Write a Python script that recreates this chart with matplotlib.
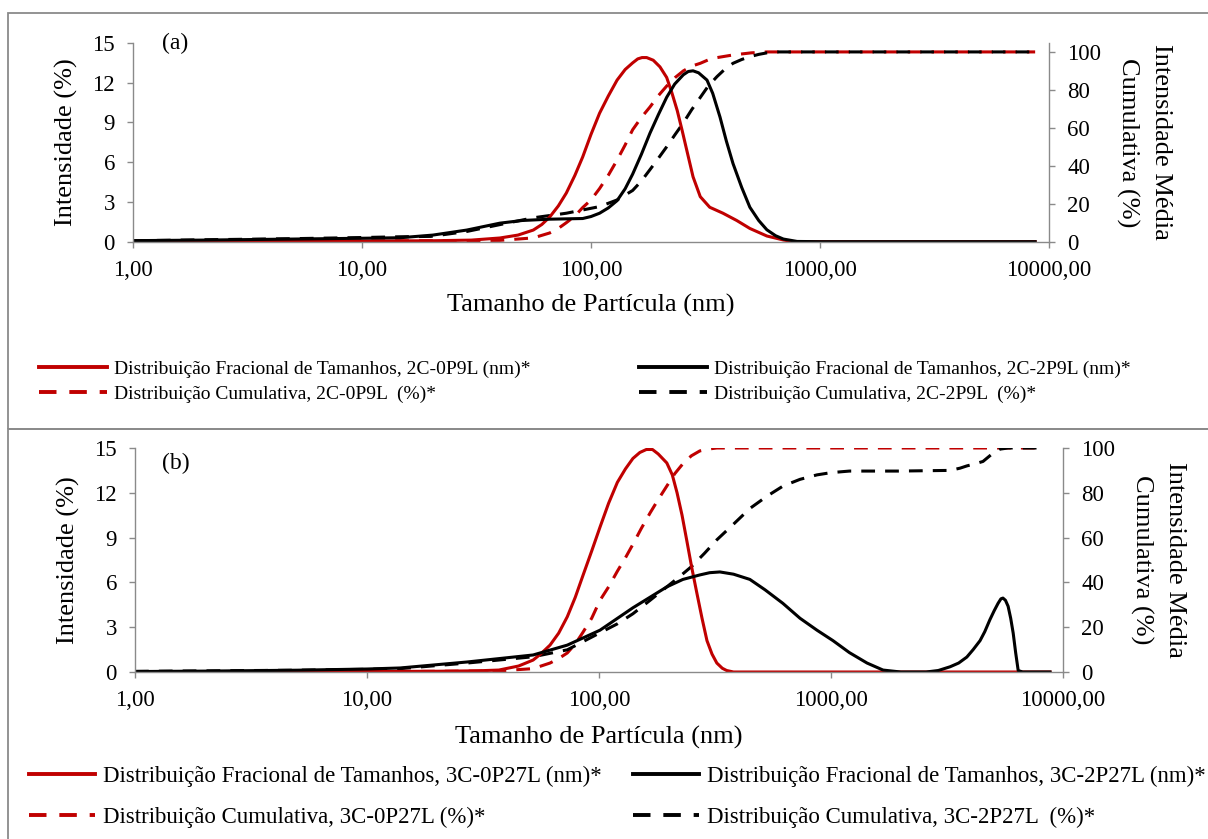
import numpy as np
import matplotlib
matplotlib.use("Agg")
import matplotlib.pyplot as plt
from matplotlib.patches import Rectangle
from matplotlib.lines import Line2D
from matplotlib.ticker import FixedLocator, NullLocator

plt.rcParams["font.family"] = ["Liberation Serif", "DejaVu Serif"]

# ---- data (x in nm) ----
x_ticks = [1, 10, 100, 1000, 10000]
x_tick_labels = ["1,00", "10,00", "100,00", "1000,00", "10000,00"]
y_left_ticks = [0, 3, 6, 9, 12, 15]
y_right_ticks = [0, 20, 40, 60, 80, 100]

# panel (a)
a_red_frac_x = [1, 2, 5, 10, 20, 30, 40, 48, 56, 61, 66, 72, 78, 85, 92, 100, 109, 119, 130,
                141, 152, 160, 167, 175, 187, 200, 214, 225, 238, 250, 262, 279, 300, 330,
                377, 433, 494, 586, 692, 765, 1000, 2000, 5000, 8700]
a_red_frac_y = [0.02, 0.02, 0.03, 0.05, 0.07, 0.12, 0.28, 0.5, 0.88, 1.3, 1.86, 2.7, 3.67,
                5.0, 6.4, 8.1, 9.7, 11.0, 12.2, 13.0, 13.5, 13.8, 13.9, 13.9, 13.7, 13.2,
                12.4, 11.3, 9.9, 8.4, 6.9, 4.9, 3.4, 2.6, 2.15, 1.6, 1.0, 0.43, 0.13, 0,
                0, 0, 0, 0]
a_blk_frac_x = [1, 2, 5, 10, 14.7, 20.4, 28.7, 40, 50, 66, 92, 100, 109, 119, 130, 141, 152,
                166, 181, 197, 214, 232, 253, 266, 279, 295, 321, 340, 366, 390, 417, 455,
                494, 540, 586, 640, 692, 794, 1000, 2000, 5000, 8700]
a_blk_frac_y = [0.08, 0.12, 0.2, 0.26, 0.3, 0.5, 0.88, 1.4, 1.6, 1.7, 1.75, 1.9, 2.15, 2.55,
                3.1, 4.0, 5.1, 6.6, 8.2, 9.6, 10.9, 11.9, 12.6, 12.85, 12.9, 12.75, 12.2,
                11.2, 9.4, 7.6, 5.9, 4.1, 2.6, 1.6, 0.9, 0.45, 0.2, 0.02, 0, 0, 0, 0]
a_red_cum_x = [1, 5, 10, 20, 30, 40, 56, 66, 72, 78, 85, 92, 100, 109, 119, 130, 141, 152,
               166, 181, 197, 214, 233, 253, 275, 300, 325, 355, 417, 500, 586, 700, 1000,
               2000, 5000, 8700]
a_red_cum_y = [0.2, 0.3, 0.4, 0.5, 0.6, 0.7, 2, 4.6, 7, 10, 13.5, 18, 22, 28, 35, 43, 51,
               59, 65.5, 71, 77, 82, 86.5, 90, 92.5, 94, 95.8, 97, 98.4, 99.5, 100, 100, 100,
               100, 100, 100]
a_blk_cum_x = [1, 2, 5, 10, 14.7, 20, 28.7, 40, 56, 78, 109, 130, 152, 166, 181, 197, 214,
               233, 253, 275, 300, 325, 355, 385, 417, 455, 494, 540, 586, 650, 1000, 2000,
               5000, 8700]
a_blk_cum_y = [0.5, 1.0, 1.6, 2.2, 2.6, 2.8, 5.4, 9, 12.6, 15, 18.5, 22, 27, 32, 38, 44, 50,
               56.5, 62.6, 69.5, 76, 82, 87, 91, 94, 96, 97.5, 98.7, 99.5, 100, 100, 100,
               100, 100]

# panel (b)
b_red_frac_x = [1, 5, 10, 20, 30, 37, 45, 52, 56, 61.5, 67, 73, 79, 85, 93, 101, 110, 120,
                130, 140, 150, 160, 170, 180, 196, 207, 217, 228, 239, 251, 264, 278, 292,
                307, 322, 340, 355, 380, 1000, 3000, 8790]
b_red_frac_y = [0.02, 0.02, 0.03, 0.05, 0.08, 0.13, 0.4, 0.8, 1.2, 1.8, 2.6, 3.7, 5.0, 6.4,
                8.1, 9.7, 11.3, 12.7, 13.6, 14.3, 14.7, 14.9, 14.9, 14.6, 14.0, 13.2, 12.0,
                10.5, 8.8, 7.0, 5.3, 3.6, 2.1, 1.2, 0.6, 0.25, 0.1, 0, 0, 0, 0]
b_blk_frac_x = [1, 2, 5, 10, 13.9, 27, 52, 73, 101, 140, 196, 230, 272, 300, 332, 380, 447,
                520, 620, 735, 870, 1020, 1200, 1430, 1676, 2000, 2570, 2900, 3260, 3550,
                3850, 4100, 4390, 4600, 4840, 5050, 5250, 5400, 5510, 5650, 5800, 5950,
                6100, 6250, 6410, 6700, 8790]
b_blk_frac_y = [0.03, 0.06, 0.12, 0.2, 0.27, 0.67, 1.14, 1.8, 2.8, 4.3, 5.7, 6.2, 6.5, 6.65,
                6.7, 6.55, 6.2, 5.5, 4.6, 3.6, 2.8, 2.1, 1.3, 0.6, 0.13, 0, 0, 0.1, 0.35,
                0.6, 1.0, 1.5, 2.1, 2.7, 3.5, 4.1, 4.6, 4.9, 4.95, 4.8, 4.4, 3.6, 2.6, 1.3,
                0.1, 0, 0]
b_red_cum_x = [1, 10, 20, 37, 52, 61.5, 67, 73, 79, 85, 93, 101, 110, 120, 130, 140, 152,
               166, 180, 196, 212, 230, 250, 272, 300, 322, 400, 1000, 3000, 7950]
b_red_cum_y = [0.1, 0.2, 0.3, 0.5, 1.5, 4, 6, 8.5, 12.5, 17.5, 24, 32, 38, 45, 51, 57, 64,
               71, 77, 83, 88.5, 93, 96.5, 98.7, 99.6, 100, 100, 100, 100, 100]
b_blk_cum_x = [1, 2, 5, 10, 13.9, 27, 52, 73, 101, 120, 140, 166, 196, 222, 250, 285, 322,
               380, 447, 530, 621, 735, 870, 1000, 1200, 1950, 3260, 3600, 3850, 4200, 4520,
               4900, 5350, 5800, 6310, 7950]
b_blk_cum_y = [0.3, 0.5, 0.8, 1.2, 1.5, 4, 6.8, 9.9, 17.5, 21.5, 26, 32, 38, 42.5, 47, 53,
               59, 66, 73, 78.5, 83, 86, 88, 89, 89.7, 89.7, 90, 91, 92, 93, 94, 97, 99.5,
               100, 100, 100]

RED = "#C00000"
BLACK = "#000000"
GRAY = "#8a8a8a"
W, H = 1208, 839
DASH = (0, (4.5, 3.3))


def px_box(left, top, right, bottom):
    """pixel box -> figure fraction rect"""
    return [left / W, 1 - bottom / H, (right - left) / W, (bottom - top) / H]


fig = plt.figure(figsize=(W / 100, H / 100), dpi=100)
fig.patch.set_facecolor("white")

# outer boxes around each panel
fig.add_artist(Rectangle((8 / W, 1 - 429 / H), 1.2, (429 - 13) / H, transform=fig.transFigure,
                         fill=False, edgecolor=GRAY, lw=1.3))
fig.add_artist(Rectangle((8 / W, -0.2), 1.2, 0.2 + 1 - 429 / H, transform=fig.transFigure,
                         fill=False, edgecolor=GRAY, lw=1.3))


def style_axes(ax, ax2, ymax2, tick_fs):
    ax.set_xscale("log")
    ax.set_xlim(1, 10000)
    ax.set_ylim(0, 15)
    ax2.set_ylim(0, ymax2)
    ax.xaxis.set_major_locator(FixedLocator(x_ticks))
    ax.set_xticklabels(x_tick_labels)
    ax.xaxis.set_minor_locator(NullLocator())
    ax.set_yticks(y_left_ticks)
    ax2.set_yticks(y_right_ticks)
    for a in (ax, ax2):
        a.set_facecolor("none")
        for s in a.spines.values():
            s.set_color(GRAY)
            s.set_linewidth(1.0)
        a.spines["top"].set_visible(False)
        a.tick_params(axis="both", which="major", color=GRAY, length=4, width=1.0,
                      labelsize=tick_fs, pad=9, direction="out")
    ax.spines["right"].set_visible(False)
    ax2.spines["left"].set_visible(False)
    ax2.spines["bottom"].set_visible(False)
    ax.set_zorder(ax2.get_zorder() + 1)


def draw_panel(rect, data, ymax2, tick_fs, label_fs, tag, tag_xy, lbl_xl, lbl_xr, xlabel_y):
    ax = fig.add_axes(rect)
    ax2 = ax.twinx()
    style_axes(ax, ax2, ymax2, tick_fs)
    (rfx, rfy), (bfx, bfy), (rcx, rcy), (bcx, bcy) = data
    ax2.plot(rcx, rcy, color=RED, lw=2.2, ls=DASH)
    ax2.plot(bcx, bcy, color=BLACK, lw=2.2, ls=DASH)
    ax.plot(rfx, rfy, color=RED, lw=2.2)
    ax.plot(bfx, bfy, color=BLACK, lw=2.2)
    ax.text(tag_xy[0], tag_xy[1], tag, transform=ax.transAxes, fontsize=17,
            ha="left", va="center")
    ax.text(lbl_xl, 0.5, "Intensidade (%)", transform=ax.transAxes, rotation=90,
            fontsize=label_fs, ha="center", va="center")
    ax.text(lbl_xr, 0.5, "Intensidade Média\nCumulativa (%)", transform=ax.transAxes,
            rotation=270, fontsize=label_fs, ha="center", va="center", linespacing=1.6)
    ax.text(0.5, xlabel_y, "Tamanho de Partícula (nm)", transform=ax.transAxes,
            fontsize=label_fs, ha="center", va="center")
    return ax


# panel (a): axes from x 133..1049, y 43..242
ax_a = draw_panel(px_box(133, 43, 1049, 241.7),
                  [(a_red_frac_x, a_red_frac_y), (a_blk_frac_x, a_blk_frac_y),
                   (a_red_cum_x, a_red_cum_y), (a_blk_cum_x, a_blk_cum_y)],
                  104.7, 16.5, 19, "(a)", ((162 - 133) / 916, 1.0),
                  (66 - 133) / 916, (1144 - 133) / 916, (241.7 - 306) / 199)

# panel (b): axes from x 135..1063, y 448..672
ax_b = draw_panel(px_box(135, 448, 1063, 672),
                  [(b_red_frac_x, b_red_frac_y), (b_blk_frac_x, b_blk_frac_y),
                   (b_red_cum_x, b_red_cum_y), (b_blk_cum_x, b_blk_cum_y)],
                  100, 16.5, 19, "(b)", ((162 - 135) / 928, (672 - 463) / 224),
                  (68 - 135) / 928, (1158 - 135) / 928, (672 - 737) / 224)


def add_legend(labels, colors, x_px, y_px, fs, spacing, hl):
    handles = [Line2D([], [], color=colors[0], lw=2.8),
               Line2D([], [], color=colors[1], lw=2.8, ls=DASH)]
    fig.legend(handles, labels, loc="center left", bbox_to_anchor=(x_px / W, 1 - y_px / H),
               frameon=False, fontsize=fs, borderpad=0, borderaxespad=0, handlelength=hl,
               handletextpad=0.35, labelspacing=spacing)


add_legend(["Distribuição Fracional de Tamanhos, 2C-0P9L (nm)*",
            "Distribuição Cumulativa, 2C-0P9L  (%)*"], [RED, RED], 39, 381.5, 14, 0.35, 3.5)
add_legend(["Distribuição Fracional de Tamanhos, 2C-2P9L (nm)*",
            "Distribuição Cumulativa, 2C-2P9L  (%)*"], [BLACK, BLACK], 639, 381.5, 14, 0.35, 3.5)
add_legend(["Distribuição Fracional de Tamanhos, 3C-0P27L (nm)*",
            "Distribuição Cumulativa, 3C-0P27L (%)*"], [RED, RED], 29, 797, 16.5, 0.85, 2.9)
add_legend(["Distribuição Fracional de Tamanhos, 3C-2P27L (nm)*",
            "Distribuição Cumulativa, 3C-2P27L  (%)*"], [BLACK, BLACK], 633, 797, 16.5, 0.85, 2.9)

fig.savefig("out.png", dpi=100, facecolor="white")
